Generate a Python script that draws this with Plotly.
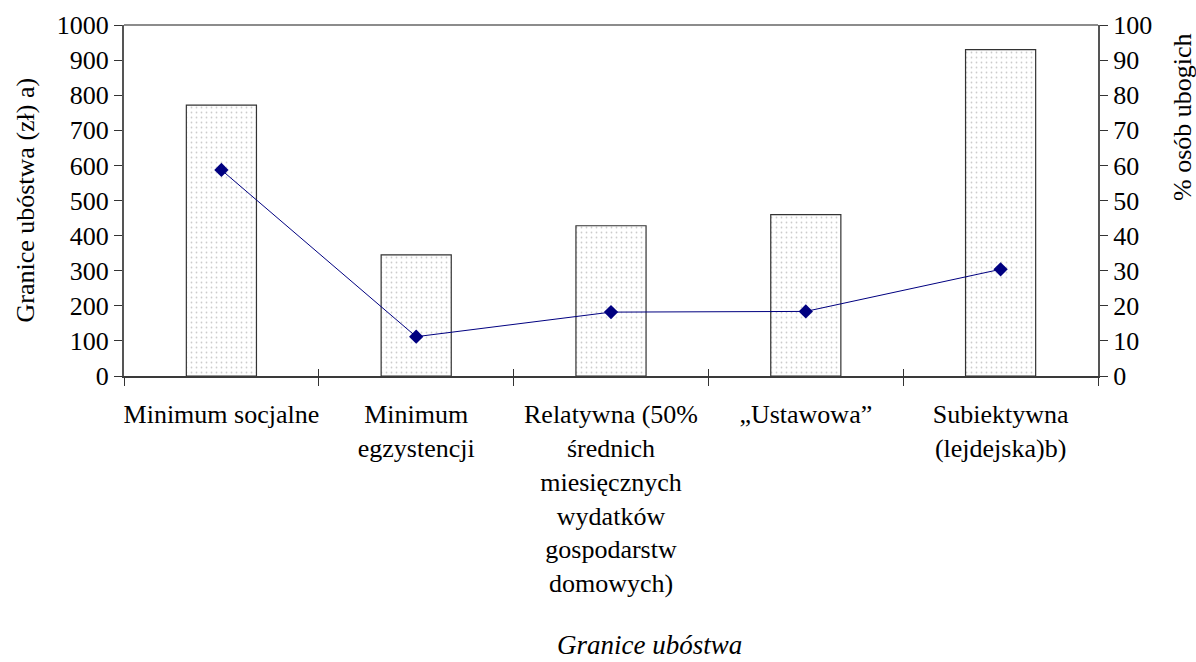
import plotly.graph_objects as go

# Poverty thresholds and the share of people below each one
categories = [
    "Minimum socjalne",
    "Minimum<br>egzystencji",
    "Relatywna (50%<br>średnich<br>miesięcznych<br>wydatków<br>gospodarstw<br>domowych)",
    "„Ustawowa”",
    "Subiektywna<br>(lejdejska)b)",
]
threshold_pln = [772, 345, 428, 460, 930]
poor_share_pct = [58.7, 11.2, 18.2, 18.4, 30.4]

left_ticks = list(range(0, 1001, 100))
right_ticks = list(range(0, 101, 10))

FONT = "'Liberation Serif', 'Times New Roman', 'DejaVu Serif', serif"
NAVY = "#000080"

fig = go.Figure()

fig.add_trace(go.Bar(
    x=categories,
    y=threshold_pln,
    width=0.36,
    marker=dict(
        color="white",
        line=dict(color="#333333", width=1.2),
        pattern=dict(shape=".", fgcolor="#9a9a9a", bgcolor="white",
                     size=5, solidity=0.1),
    ),
    showlegend=False,
    hoverinfo="skip",
))

# percentage line lives on the companion x axis (same categories and range)
fig.add_trace(go.Scatter(
    x=categories,
    y=poor_share_pct,
    xaxis="x2",
    yaxis="y2",
    mode="lines+markers",
    line=dict(color=NAVY, width=1),
    marker=dict(symbol="diamond", size=11, color=NAVY),
    showlegend=False,
    hoverinfo="skip",
))

fig.update_layout(
    width=1196,
    height=662,
    margin=dict(l=124, r=98, t=25, b=286),
    paper_bgcolor="white",
    plot_bgcolor="white",
    font=dict(family=FONT, size=26, color="black"),
    bargap=0.64,
    xaxis=dict(
        type="category",
        categoryarray=categories,
        range=[-0.5, 4.5],
        tickson="boundaries",
        ticks="outside",
        ticklen=8,
        tickwidth=1,
        tickcolor="#333333",
        tickangle=0,
        showline=True,
        linecolor="#3a3a3a",
        linewidth=2,
        showgrid=False,
        ticklabelstandoff=14,
        tickfont=dict(family=FONT, size=26),
    ),
    # companion axis that draws the upper half of the crossing category ticks
    xaxis2=dict(
        type="category",
        overlaying="x",
        side="bottom",
        anchor="y",
        categoryorder="array",
        categoryarray=categories,
        range=[-0.5, 4.5],
        tickson="boundaries",
        ticks="inside",
        ticklen=7,
        tickwidth=1,
        tickcolor="#333333",
        showticklabels=False,
        showline=False,
        showgrid=False,
    ),
    yaxis=dict(
        range=[0, 1000],
        tickvals=left_ticks,
        ticks="outside",
        ticklen=8,
        tickwidth=1,
        tickcolor="#333333",
        showline=True,
        linecolor="#555555",
        linewidth=2,
        showgrid=False,
        zeroline=False,
        tickfont=dict(family=FONT, size=26),
    ),
    yaxis2=dict(
        overlaying="y",
        side="right",
        anchor="x",
        range=[0, 100],
        tickvals=right_ticks,
        ticks="outside",
        ticklen=8,
        tickwidth=1,
        tickcolor="#333333",
        showline=True,
        linecolor="#555555",
        linewidth=2,
        showgrid=False,
        zeroline=False,
        tickfont=dict(family=FONT, size=26),
    ),
    shapes=[
        dict(type="line", xref="paper", yref="paper", x0=0, x1=1, y0=1, y1=1,
             line=dict(color="#8c8c8c", width=2)),
    ],
    annotations=[
        dict(text="Granice ubóstwa (zł) a)", textangle=-90,
             xref="paper", yref="paper", x=-0.1016, y=0.5,
             xanchor="center", yanchor="middle", showarrow=False,
             font=dict(family=FONT, size=26)),
        dict(text="% osób ubogich", textangle=-90,
             xref="paper", yref="paper", x=1.0873, y=0.738,
             xanchor="center", yanchor="middle", showarrow=False,
             font=dict(family=FONT, size=26)),
        dict(text="<i>Granice ubóstwa</i>",
             xref="paper", yref="paper", x=0.54, y=-0.765,
             xanchor="center", yanchor="middle", showarrow=False,
             font=dict(family=FONT, size=27)),
    ],
)

fig.write_html("out.html")
